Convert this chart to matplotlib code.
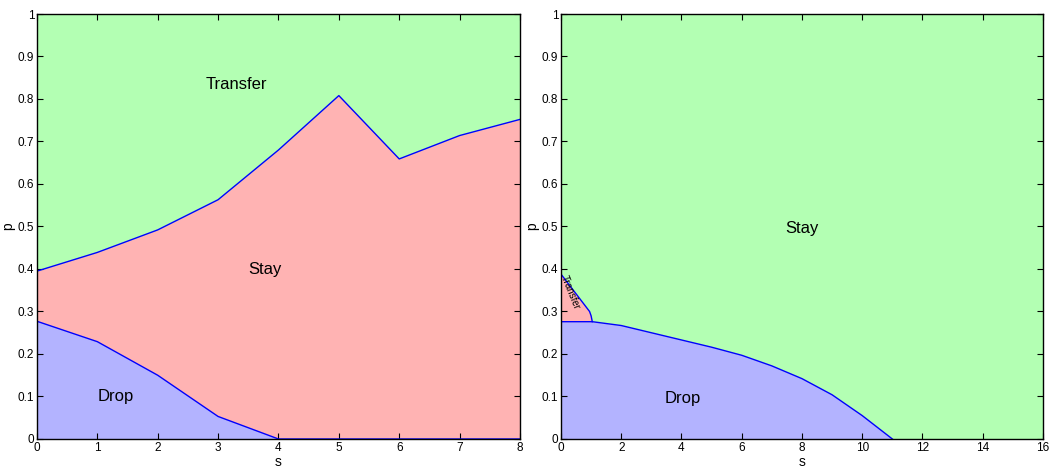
import numpy as np
import matplotlib
matplotlib.use("Agg")
import matplotlib.pyplot as plt

plt.rcParams['font.family'] = ['Liberation Sans', 'DejaVu Sans']

# left panel: thresholds vs s
s_left = [0, 1, 2, 3, 4, 5, 6, 7, 8]
p_transfer_left = [0.395, 0.439, 0.492, 0.563, 0.680, 0.808, 0.659, 0.714, 0.752]
p_drop_left = [0.277, 0.229, 0.150, 0.053, 0.0, 0.0, 0.0, 0.0, 0.0]

# right panel
s_right = [0, 1.04, 2, 3, 4, 5, 6, 7, 8, 9, 10, 11, 16]
p_drop_right = [0.276, 0.276, 0.267, 0.250, 0.233, 0.216, 0.197, 0.172, 0.142, 0.104, 0.055, 0.0, 0.0]
s_transfer_right = [0, 0.95, 1.0, 1.04]
p_transfer_right = [0.388, 0.300, 0.290, 0.276]

green = '#b3ffb3'
pink = '#ffb3b3'
blue = '#b3b3ff'
line = '#0000ff'

fig = plt.figure(figsize=(10.59, 4.73), dpi=100)
ax1 = fig.add_axes([0.0349, 0.0719, 0.4561, 0.8985])
ax2 = fig.add_axes([0.5297, 0.0719, 0.4552, 0.8985])

# left
ax1.fill_between([0, 8], 0, 1, color=green, lw=0)
ax1.fill_between(s_left, 0, p_transfer_left, color=pink, lw=0)
ax1.fill_between(s_left, 0, p_drop_left, color=blue, lw=0)
ax1.plot(s_left, p_transfer_left, color=line, lw=1)
ax1.plot(s_left, p_drop_left, color=line, lw=1)
ax1.text(3.31, 0.833, 'Transfer', fontsize=12, ha='center', va='center')
ax1.text(3.77, 0.398, 'Stay', fontsize=12, ha='center', va='center')
ax1.text(1.3, 0.10, 'Drop', fontsize=12, ha='center', va='center')
ax1.set_xlim(0, 8)
ax1.set_xticks(range(0, 9))

# right
ax2.fill_between([0, 16], 0, 1, color=green, lw=0)
ax2.fill_between(s_transfer_right, 0, p_transfer_right, color=pink, lw=0)
ax2.fill_between(s_right, 0, p_drop_right, color=blue, lw=0)
ax2.plot(s_transfer_right, p_transfer_right, color=line, lw=1)
ax2.plot(s_right[:12], p_drop_right[:12], color=line, lw=1)
ax2.text(8.0, 0.496, 'Stay', fontsize=12, ha='center', va='center')
ax2.text(4.05, 0.096, 'Drop', fontsize=12, ha='center', va='center')
ax2.text(0.32, 0.345, 'Transfer', fontsize=7, ha='center', va='center', rotation=-68)
ax2.set_xlim(0, 16)
ax2.set_xticks(range(0, 17, 2))

for ax in (ax1, ax2):
    ax.set_ylim(0, 1)
    ax.set_yticks(np.arange(0, 1.01, 0.1))
    ax.set_yticklabels(['0', '0.1', '0.2', '0.3', '0.4', '0.5', '0.6', '0.7', '0.8', '0.9', '1'])
    ax.tick_params(direction='in', top=True, right=True, length=4, width=0.8,
                   labelsize=8.5, pad=2)
    ax.set_xlabel('s', fontsize=10, labelpad=1)
    ax.set_ylabel('p', fontsize=10, labelpad=2)
    for sp in ax.spines.values():
        sp.set_linewidth(1.0)

plt.savefig('out.png', dpi=100)
